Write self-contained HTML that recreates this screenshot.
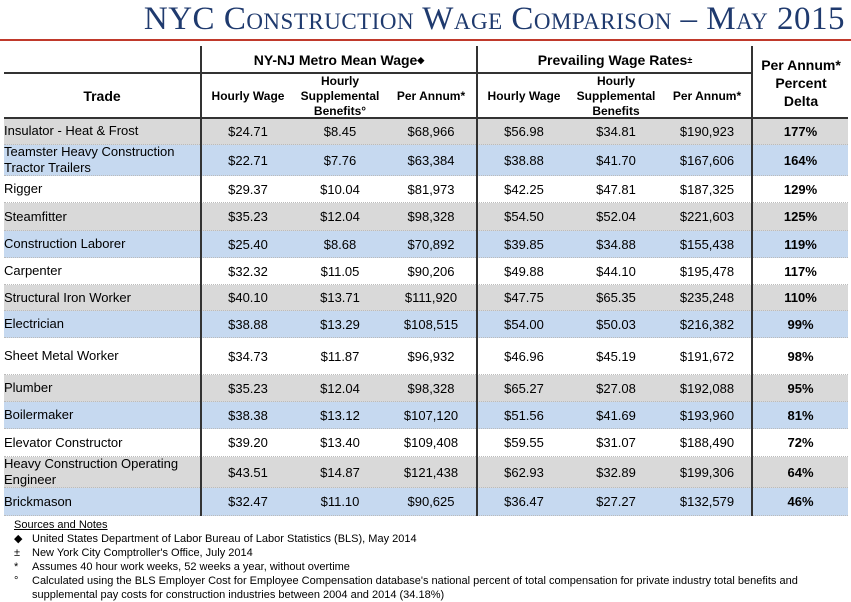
<!DOCTYPE html>
<html><head><meta charset="utf-8"><style>
*{margin:0;padding:0;box-sizing:border-box}
body{width:851px;height:601px;background:#fff;position:relative;overflow:hidden;font-family:"Liberation Sans",Arial,sans-serif;color:#000}
.t{position:absolute;right:6px;top:1px;font-family:"Liberation Serif",serif;color:#1f3a6e;font-size:33px;font-variant:small-caps;white-space:nowrap;letter-spacing:0.5px}
.red{position:absolute;left:0;top:39px;width:851px;height:2px;background:#c0392b}
.hl{position:absolute;background:#333;height:2px}
.vl{position:absolute;background:#333;width:2px}
.row{position:absolute;left:4px;width:844px;border-bottom:1px dotted #bbb}
.c{position:absolute;top:0;height:100%;display:flex;align-items:center;justify-content:center;text-align:center;font-size:13px}
.trade{left:0;width:196px;justify-content:flex-start;text-align:left;line-height:16px}
.hd{position:absolute;font-weight:bold;font-size:12px;text-align:center;line-height:16px;display:flex;align-items:center;justify-content:center}
.notes{position:absolute;left:14px;font-size:11px;line-height:14px}
.notes div{position:relative;padding-left:18px}
.notes span{position:absolute;left:0}
</style></head><body>
<div class="t">NYC Construction Wage Comparison – May 2015</div>
<div class="red"></div>

<div class="hd" style="left:202px;top:48px;width:274px;height:24px;font-size:14px">NY-NJ Metro Mean Wage<sup style="font-size:9px">◆</sup></div>
<div class="hd" style="left:478px;top:48px;width:274px;height:24px;font-size:14px">Prevailing Wage Rates<sup style="font-size:9px">±</sup></div>
<div class="hd" style="left:753px;top:52px;width:96px;height:62px;font-size:14px;line-height:18px">Per Annum*<br>Percent<br>Delta</div>
<div class="hd" style="left:4px;top:74px;width:196px;height:44px;font-size:14px">Trade</div>
<div class="hd" style="left:202px;top:74px;width:92px;height:44px">Hourly Wage</div>
<div class="hd" style="left:294px;top:74px;width:92px;height:44px;line-height:15px">Hourly<br>Supplemental<br>Benefits°</div>
<div class="hd" style="left:386px;top:74px;width:90px;height:44px">Per Annum*</div>
<div class="hd" style="left:478px;top:74px;width:92px;height:44px">Hourly Wage</div>
<div class="hd" style="left:570px;top:74px;width:92px;height:44px;line-height:15px">Hourly<br>Supplemental<br>Benefits</div>
<div class="hd" style="left:662px;top:74px;width:90px;height:44px">Per Annum*</div>

<div class="row" style="top:118px;height:27px;background:#d9d9d9"><div class="c trade">Insulator - Heat &amp; Frost</div><div class="c" style="left:198px;width:92px">$24.71</div><div class="c" style="left:290px;width:92px">$8.45</div><div class="c" style="left:382px;width:90px">$68,966</div><div class="c" style="left:474px;width:92px">$56.98</div><div class="c" style="left:566px;width:92px">$34.81</div><div class="c" style="left:658px;width:90px">$190,923</div><div class="c" style="left:749px;width:95px;font-weight:bold">177%</div></div>
<div class="row" style="top:145px;height:31px;background:#c6d9f0"><div class="c trade">Teamster Heavy Construction<br>Tractor Trailers</div><div class="c" style="left:198px;width:92px">$22.71</div><div class="c" style="left:290px;width:92px">$7.76</div><div class="c" style="left:382px;width:90px">$63,384</div><div class="c" style="left:474px;width:92px">$38.88</div><div class="c" style="left:566px;width:92px">$41.70</div><div class="c" style="left:658px;width:90px">$167,606</div><div class="c" style="left:749px;width:95px;font-weight:bold">164%</div></div>
<div class="row" style="top:176px;height:27px;background:#fff"><div class="c trade">Rigger</div><div class="c" style="left:198px;width:92px">$29.37</div><div class="c" style="left:290px;width:92px">$10.04</div><div class="c" style="left:382px;width:90px">$81,973</div><div class="c" style="left:474px;width:92px">$42.25</div><div class="c" style="left:566px;width:92px">$47.81</div><div class="c" style="left:658px;width:90px">$187,325</div><div class="c" style="left:749px;width:95px;font-weight:bold">129%</div></div>
<div class="row" style="top:203px;height:28px;background:#d9d9d9"><div class="c trade">Steamfitter</div><div class="c" style="left:198px;width:92px">$35.23</div><div class="c" style="left:290px;width:92px">$12.04</div><div class="c" style="left:382px;width:90px">$98,328</div><div class="c" style="left:474px;width:92px">$54.50</div><div class="c" style="left:566px;width:92px">$52.04</div><div class="c" style="left:658px;width:90px">$221,603</div><div class="c" style="left:749px;width:95px;font-weight:bold">125%</div></div>
<div class="row" style="top:231px;height:27px;background:#c6d9f0"><div class="c trade">Construction Laborer</div><div class="c" style="left:198px;width:92px">$25.40</div><div class="c" style="left:290px;width:92px">$8.68</div><div class="c" style="left:382px;width:90px">$70,892</div><div class="c" style="left:474px;width:92px">$39.85</div><div class="c" style="left:566px;width:92px">$34.88</div><div class="c" style="left:658px;width:90px">$155,438</div><div class="c" style="left:749px;width:95px;font-weight:bold">119%</div></div>
<div class="row" style="top:258px;height:27px;background:#fff"><div class="c trade">Carpenter</div><div class="c" style="left:198px;width:92px">$32.32</div><div class="c" style="left:290px;width:92px">$11.05</div><div class="c" style="left:382px;width:90px">$90,206</div><div class="c" style="left:474px;width:92px">$49.88</div><div class="c" style="left:566px;width:92px">$44.10</div><div class="c" style="left:658px;width:90px">$195,478</div><div class="c" style="left:749px;width:95px;font-weight:bold">117%</div></div>
<div class="row" style="top:285px;height:26px;background:#d9d9d9"><div class="c trade">Structural Iron Worker</div><div class="c" style="left:198px;width:92px">$40.10</div><div class="c" style="left:290px;width:92px">$13.71</div><div class="c" style="left:382px;width:90px">$111,920</div><div class="c" style="left:474px;width:92px">$47.75</div><div class="c" style="left:566px;width:92px">$65.35</div><div class="c" style="left:658px;width:90px">$235,248</div><div class="c" style="left:749px;width:95px;font-weight:bold">110%</div></div>
<div class="row" style="top:311px;height:27px;background:#c6d9f0"><div class="c trade">Electrician</div><div class="c" style="left:198px;width:92px">$38.88</div><div class="c" style="left:290px;width:92px">$13.29</div><div class="c" style="left:382px;width:90px">$108,515</div><div class="c" style="left:474px;width:92px">$54.00</div><div class="c" style="left:566px;width:92px">$50.03</div><div class="c" style="left:658px;width:90px">$216,382</div><div class="c" style="left:749px;width:95px;font-weight:bold">99%</div></div>
<div class="row" style="top:338px;height:37px;background:#fff"><div class="c trade">Sheet Metal Worker</div><div class="c" style="left:198px;width:92px">$34.73</div><div class="c" style="left:290px;width:92px">$11.87</div><div class="c" style="left:382px;width:90px">$96,932</div><div class="c" style="left:474px;width:92px">$46.96</div><div class="c" style="left:566px;width:92px">$45.19</div><div class="c" style="left:658px;width:90px">$191,672</div><div class="c" style="left:749px;width:95px;font-weight:bold">98%</div></div>
<div class="row" style="top:375px;height:27px;background:#d9d9d9"><div class="c trade">Plumber</div><div class="c" style="left:198px;width:92px">$35.23</div><div class="c" style="left:290px;width:92px">$12.04</div><div class="c" style="left:382px;width:90px">$98,328</div><div class="c" style="left:474px;width:92px">$65.27</div><div class="c" style="left:566px;width:92px">$27.08</div><div class="c" style="left:658px;width:90px">$192,088</div><div class="c" style="left:749px;width:95px;font-weight:bold">95%</div></div>
<div class="row" style="top:402px;height:27px;background:#c6d9f0"><div class="c trade">Boilermaker</div><div class="c" style="left:198px;width:92px">$38.38</div><div class="c" style="left:290px;width:92px">$13.12</div><div class="c" style="left:382px;width:90px">$107,120</div><div class="c" style="left:474px;width:92px">$51.56</div><div class="c" style="left:566px;width:92px">$41.69</div><div class="c" style="left:658px;width:90px">$193,960</div><div class="c" style="left:749px;width:95px;font-weight:bold">81%</div></div>
<div class="row" style="top:429px;height:28px;background:#fff"><div class="c trade">Elevator Constructor</div><div class="c" style="left:198px;width:92px">$39.20</div><div class="c" style="left:290px;width:92px">$13.40</div><div class="c" style="left:382px;width:90px">$109,408</div><div class="c" style="left:474px;width:92px">$59.55</div><div class="c" style="left:566px;width:92px">$31.07</div><div class="c" style="left:658px;width:90px">$188,490</div><div class="c" style="left:749px;width:95px;font-weight:bold">72%</div></div>
<div class="row" style="top:457px;height:31px;background:#d9d9d9"><div class="c trade">Heavy Construction Operating<br>Engineer</div><div class="c" style="left:198px;width:92px">$43.51</div><div class="c" style="left:290px;width:92px">$14.87</div><div class="c" style="left:382px;width:90px">$121,438</div><div class="c" style="left:474px;width:92px">$62.93</div><div class="c" style="left:566px;width:92px">$32.89</div><div class="c" style="left:658px;width:90px">$199,306</div><div class="c" style="left:749px;width:95px;font-weight:bold">64%</div></div>
<div class="row" style="top:488px;height:28px;background:#c6d9f0"><div class="c trade">Brickmason</div><div class="c" style="left:198px;width:92px">$32.47</div><div class="c" style="left:290px;width:92px">$11.10</div><div class="c" style="left:382px;width:90px">$90,625</div><div class="c" style="left:474px;width:92px">$36.47</div><div class="c" style="left:566px;width:92px">$27.27</div><div class="c" style="left:658px;width:90px">$132,579</div><div class="c" style="left:749px;width:95px;font-weight:bold">46%</div></div>

<div class="hl" style="left:4px;top:72px;width:748px"></div>
<div class="hl" style="left:4px;top:117px;width:844px"></div>
<div class="vl" style="left:200px;top:46px;height:470px"></div>
<div class="vl" style="left:476px;top:46px;height:470px"></div>
<div class="vl" style="left:751px;top:46px;height:470px"></div>

<div class="notes" style="top:518px">
<div style="padding-left:0;text-decoration:underline">Sources and Notes</div>
<div><span>◆</span>United States Department of Labor Bureau of Labor Statistics (BLS), May 2014</div>
<div><span>±</span>New York City Comptroller's Office, July 2014</div>
<div><span>*</span>Assumes 40 hour work weeks, 52 weeks a year, without overtime</div>
<div><span>°</span>Calculated using the BLS Employer Cost for Employee Compensation database's national percent of total compensation for private industry total benefits and<br>supplemental pay costs for construction industries between 2004 and 2014 (34.18%)</div>
</div>
</body></html>
